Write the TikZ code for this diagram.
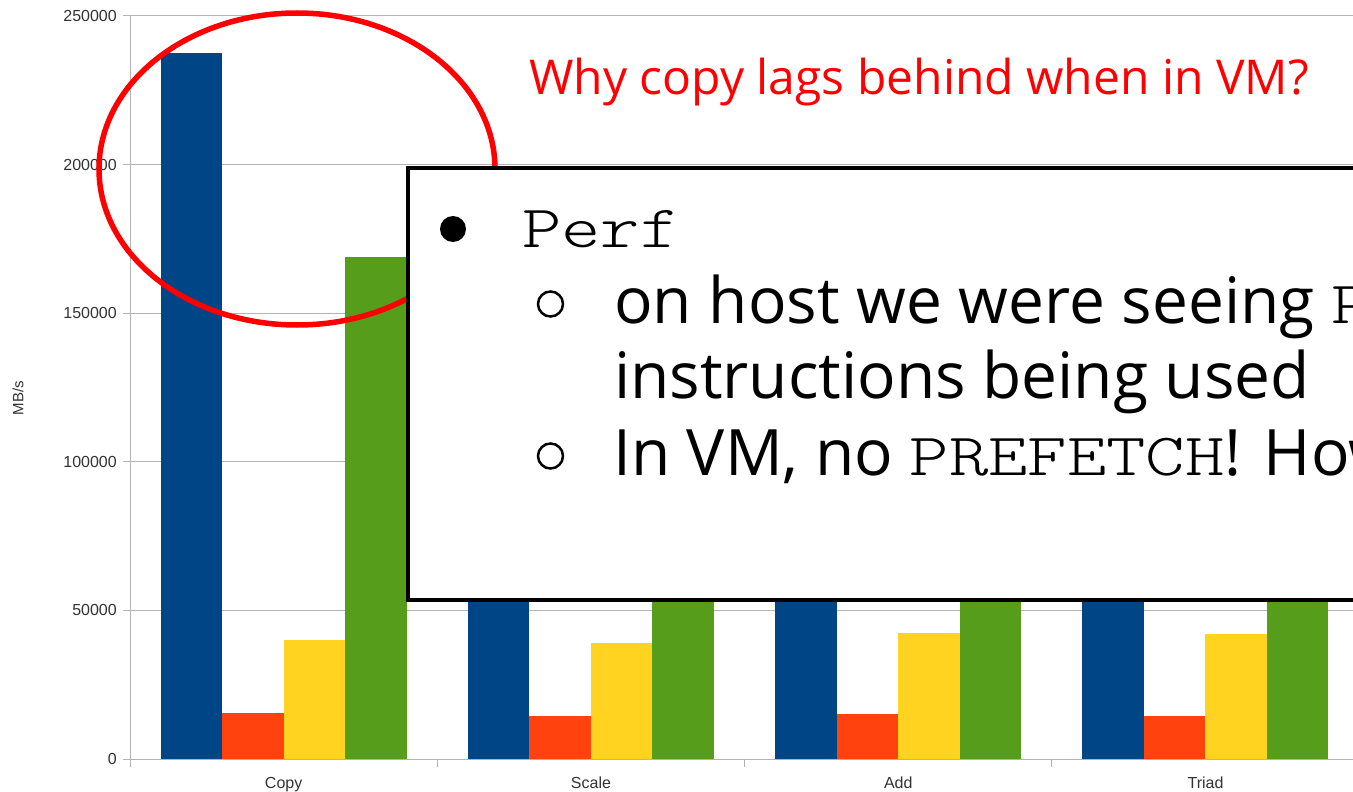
\documentclass[tikz,border=0pt]{standalone}
\usepackage{fontspec}
\setmainfont{Liberation Sans}
\newfontfamily\slidefont{Open Sans}
\newfontfamily\codefont{lmmonolt10-regular.otf}
% typewriter text, widened to Courier-like proportions
\newcommand\codetext[1]{{\codefont\scalebox{1.25}[1]{#1}}}
\definecolor{gridgray}{HTML}{B3B3B3}
\definecolor{labelgray}{HTML}{333333}
\definecolor{serA}{HTML}{004586}
\definecolor{serB}{HTML}{FF420E}
\definecolor{serC}{HTML}{FFD320}
\definecolor{serD}{HTML}{579D1C}
\definecolor{alertred}{HTML}{FF0000}
\begin{document}
\begin{tikzpicture}[x=1pt,y=-1pt,
  gridline/.style={draw=gridgray,line width=1pt},
  ticklabel/.style={font=\fontsize{16}{16}\selectfont,text=labelgray,inner sep=0pt},
  bodytext/.style={font=\slidefont\fontsize{64}{76}\selectfont,inner sep=0pt,anchor=base west},
  note/.style={draw=black,line width=4pt,fill=white},
  ring/.style={draw=alertred,line width=5.5pt}]
\clip (0,0) rectangle (1353,792);
\fill[white] (0,0) rectangle (1353,792);

% horizontal grid, left ticks and value labels
\foreach \k/\lab in {0/0,1/50000,2/100000,3/150000,4/200000,5/250000}{
  \pgfmathsetmacro\yy{759-148.6*\k}
  \draw[gridline] (123,\yy) -- (1360,\yy);
  \node[ticklabel,anchor=east] (tick\k) at (117,\yy) {\lab};
}
% axes
\draw[gridline] (130,16) -- (130,767);
\foreach \i in {0,1,2,3}{
  \pgfmathsetmacro\xx{130+307.3*\i}
  \draw[gridline] (\xx,759) -- (\xx,767);
}
\node[ticklabel,rotate=90,font=\fontsize{15}{15}\selectfont] (ylab) at (18,398) {MB/s};

% bars: tops of the four series per category (in picture rows)
\foreach \i/\ta/\tb/\tc/\td in {0/53/713/640/257, 1/260/716/643/300, 2/262/714/633/298, 3/262/716/634/300}{
  \pgfmathsetmacro\xs{130+307.3*\i+30.5}
  \fill[serA] (\xs,759) rectangle ++(61.5,\ta-759);
  \fill[serB] (\xs+61.5,759) rectangle ++(61.5,\tb-759);
  \fill[serC] (\xs+123,759) rectangle ++(61.5,\tc-759);
  \fill[serD] (\xs+184.5,759) rectangle ++(61.5,\td-759);
}
% category labels
\foreach \i/\lab in {0/Copy,1/Scale,2/Add,3/Triad}{
  \pgfmathsetmacro\xx{130+307.3*(\i+0.5)}
  \node[ticklabel,anchor=base] (cat\i) at (\xx,788) {\lab};
}

% highlight ring around the Copy group
\draw[ring] (297,169) ellipse [x radius=198, y radius=156];

% question
\node[font=\slidefont\fontsize{48}{48}\selectfont,text=alertred,inner sep=0pt,anchor=base west] (question) at (529,95) {Why copy lags behind when in VM?};

% note box
\draw[note] (407.5,167.5) rectangle (1375,599.5);
\fill[black] (453,229) circle (13);
\node[inner sep=0pt,anchor=base west,font=\fontsize{60}{60}\selectfont] (perf) at (522,247) {\codetext{Perf}};
\draw[black,line width=2.5pt] (550.5,304) circle (12.5);
\draw[black,line width=2.5pt] (550.5,456) circle (12.5);
\node[bodytext] (l1) at (614,323) {on host we were seeing {\fontsize{60}{60}\selectfont\codetext{P}}};
\node[bodytext] (l2) at (614,398) {instructions being used};
\node[bodytext] (l3) at (613,475) {In VM, no {\fontsize{60}{60}\selectfont\codetext{PREFETCH}}! How};
\end{tikzpicture}
\end{document}
